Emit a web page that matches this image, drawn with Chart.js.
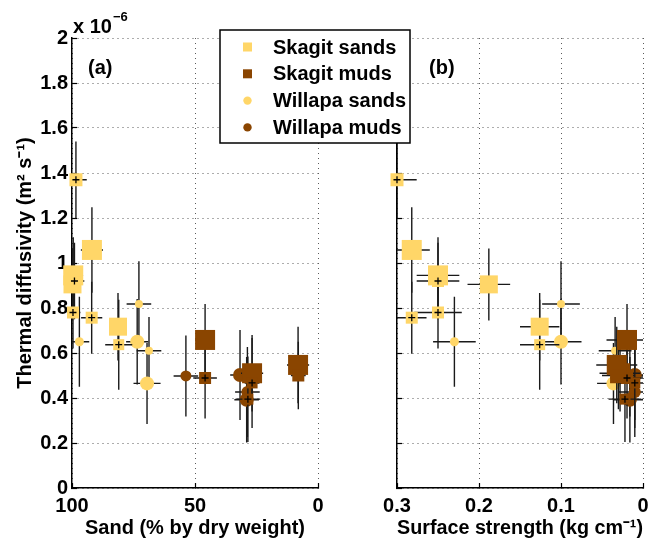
<!DOCTYPE html>
<html>
<head>
<meta charset="utf-8">
<script src="https://cdn.jsdelivr.net/npm/chart.js@4.4.0/dist/chart.umd.min.js"></script>
<style>
  body { margin: 0; background: #fff; }
  #wrap { position: relative; width: 650px; height: 541px; }
  #wrap canvas { position: absolute; left: 0; top: 0; }
</style>
</head>
<body>
<div id="wrap">
  <canvas id="panelA" width="650" height="541"></canvas>
  <canvas id="panelB" width="650" height="541"></canvas>
</div>
<script>
  // thermal diffusivity in units of 1e-6 m2/s
  // Skagit sands
  const skSandPct     = [98.4, 91.9, 99.5, 99.0, 99.8, 99.6, 92.0, 81.3, 81.0];
  const skSandPctErr  = [4.4, 4.5, 4.0, 4.0, 3.5, 3.0, 4.3, 3.5, 5.5];
  const skSandStr     = [0.300, 0.282, 0.250, 0.250, 0.188, 0.250, 0.282, 0.126, 0.126];
  const skSandStrErr  = [0.024, 0.022, 0.026, 0.026, 0.026, 0.029, 0.018, 0.024, 0.024];
  const skSandDiff    = [1.37, 1.058, 0.945, 0.92, 0.905, 0.78, 0.757, 0.717, 0.637];
  const skSandDiffErr = [0.17, 0.19, 0.17, 0.17, 0.16, 0.16, 0.16, 0.15, 0.20];

  // Skagit muds
  const skMudPct     = [45.9, 45.9, 26.8, 26.8, 8.1, 8.0, 28.5];
  const skMudPctErr  = [4.0, 4.8, 4.5, 3.0, 4.5, 3.0, 5.0];
  const skMudStr     = [0.0195, 0.0195, 0.028, 0.010, 0.032, 0.030, 0.022];
  const skMudStrErr  = [0.025, 0.020, 0.025, 0.020, 0.025, 0.020, 0.020];
  const skMudDiff    = [0.658, 0.489, 0.51, 0.467, 0.547, 0.50, 0.395];
  const skMudDiffErr = [0.16, 0.18, 0.17, 0.20, 0.17, 0.15, 0.19];

  // Willapa sands
  const wiSandPct     = [97.0, 72.8, 73.5, 68.7, 69.5];
  const wiSandPctErr  = [4.0, 5.0, 4.5, 5.0, 5.5];
  const wiSandStr     = [0.230, 0.100, 0.100, 0.034, 0.036];
  const wiSandStrErr  = [0.026, 0.023, 0.025, 0.020, 0.020];
  const wiSandDiff    = [0.65, 0.818, 0.65, 0.61, 0.465];
  const wiSandDiffErr = [0.20, 0.19, 0.19, 0.15, 0.18];

  // Willapa muds
  const wiMudPct     = [53.7, 31.7, 28.7, 29.0];
  const wiMudPctErr  = [5.0, 4.0, 5.0, 5.0];
  const wiMudStr     = [0.016, 0.010, 0.010, 0.016];
  const wiMudStrErr  = [0.020, 0.020, 0.020, 0.020];
  const wiMudDiff    = [0.498, 0.502, 0.427, 0.392];
  const wiMudDiffErr = [0.18, 0.20, 0.20, 0.19];

  // marker sizes (px) and which samples get a '+' marker
  const skSandSize  = [13, 20, 20, 12, 18, 12, 12, 18, 11];
  const skSandCross = [1, 0, 0, 1, 0, 1, 1, 0, 1];
  const skMudSize   = [20, 12, 20, 11, 20, 12, 11];
  const skMudCross  = [0, 1, 0, 1, 0, 0, 1];
  const wiSandSize  = [9, 8, 14, 8, 14];
  const wiMudSize   = [11, 14, 12, 14];

  const yTicks = [0, 0.2, 0.4, 0.6, 0.8, 1, 1.2, 1.4, 1.6, 1.8, 2];
  const yTickLabels = ['0', '0.2', '0.4', '0.6', '0.8', '1', '1.2', '1.4', '1.6', '1.8', '2'];

  const sandColor = '#FFD668';
  const mudColor = '#8A4500';
  const FONT = '"Liberation Sans", Arial, Helvetica, sans-serif';
  Chart.defaults.font.family = FONT;
  Chart.defaults.color = '#000';

  const groups = [
    {label: 'Skagit sands', color: sandColor, style: 'rect', pct: skSandPct, pctErr: skSandPctErr,
     str: skSandStr, strErr: skSandStrErr, diff: skSandDiff, diffErr: skSandDiffErr, size: skSandSize, cross: skSandCross},
    {label: 'Skagit muds', color: mudColor, style: 'rect', pct: skMudPct, pctErr: skMudPctErr,
     str: skMudStr, strErr: skMudStrErr, diff: skMudDiff, diffErr: skMudDiffErr, size: skMudSize, cross: skMudCross},
    {label: 'Willapa sands', color: sandColor, style: 'circle', pct: wiSandPct, pctErr: wiSandPctErr,
     str: wiSandStr, strErr: wiSandStrErr, diff: wiSandDiff, diffErr: wiSandDiffErr, size: wiSandSize, cross: []},
    {label: 'Willapa muds', color: mudColor, style: 'circle', pct: wiMudPct, pctErr: wiMudPctErr,
     str: wiMudStr, strErr: wiMudStrErr, diff: wiMudDiff, diffErr: wiMudDiffErr, size: wiMudSize, cross: []}
  ];

  function buildDatasets(useSand) {
    return groups.map(g => {
      const radius = c => g.style === 'rect' ? g.size[c.dataIndex] / Math.SQRT2 : g.size[c.dataIndex] / 2;
      return {
        label: g.label,
        data: g.diff.map((v, i) => ({
          x: useSand ? g.pct[i] : g.str[i],
          y: v,
          xe: useSand ? g.pctErr[i] : g.strErr[i],
          ye: g.diffErr[i],
          cross: !!g.cross[i]
        })),
        pointStyle: g.style,
        backgroundColor: g.color,
        borderWidth: 0,
        pointRadius: radius,
        pointHoverRadius: radius,
        clip: false
      };
    });
  }

  // error bars under each series' markers, '+' marks on top
  const errorBars = {
    id: 'errorBars',
    beforeDatasetDraw(chart, args) {
      const ds = chart.data.datasets[args.index];
      const xs = chart.scales.x, ys = chart.scales.y;
      const a = chart.chartArea, ctx = chart.ctx;
      ctx.save();
      ctx.beginPath();
      ctx.rect(a.left, a.top, a.right - a.left, a.bottom - a.top);
      ctx.clip();
      ctx.strokeStyle = '#1a1a1a';
      ctx.lineWidth = 1.4;
      ds.data.forEach(p => {
        const px = xs.getPixelForValue(p.x), py = ys.getPixelForValue(p.y);
        ctx.beginPath();
        ctx.moveTo(xs.getPixelForValue(p.x - p.xe), py);
        ctx.lineTo(xs.getPixelForValue(p.x + p.xe), py);
        ctx.moveTo(px, ys.getPixelForValue(p.y - p.ye));
        ctx.lineTo(px, ys.getPixelForValue(p.y + p.ye));
        ctx.stroke();
      });
      ctx.restore();
    },
    afterDatasetDraw(chart, args) {
      const ds = chart.data.datasets[args.index];
      const xs = chart.scales.x, ys = chart.scales.y, ctx = chart.ctx;
      ctx.save();
      ctx.strokeStyle = '#000';
      ctx.lineWidth = 1.3;
      ds.data.forEach(p => {
        if (!p.cross) return;
        const px = xs.getPixelForValue(p.x), py = ys.getPixelForValue(p.y);
        ctx.beginPath();
        ctx.moveTo(px - 3.5, py); ctx.lineTo(px + 3.5, py);
        ctx.moveTo(px, py - 3.5); ctx.lineTo(px, py + 3.5);
        ctx.stroke();
      });
      ctx.restore();
    }
  };

  function panelLabel(text, dx, extra) {
    return {
      id: 'panelLabel',
      afterDraw(chart) {
        const ctx = chart.ctx, a = chart.chartArea;
        ctx.save();
        ctx.fillStyle = '#000';
        ctx.textBaseline = 'alphabetic';
        ctx.font = 'bold 20px ' + FONT;
        ctx.fillText(text, a.left + dx, 74);
        if (extra) {
          ctx.fillText('x 10', a.left + 1, 33);
          const w = ctx.measureText('x 10').width;
          ctx.font = 'bold 13px ' + FONT;
          ctx.fillText('\u22126', a.left + 2 + w, 21);
        }
        ctx.restore();
      }
    };
  }

  const legendBox = {
    id: 'legendBox',
    afterDraw(chart) {
      const ctx = chart.ctx;
      ctx.save();
      ctx.fillStyle = '#fff';
      ctx.fillRect(220, 30, 190, 113);
      ctx.strokeStyle = '#000';
      ctx.lineWidth = 1.5;
      ctx.strokeRect(220, 30, 190, 113);
      ctx.font = 'bold 20px ' + FONT;
      ctx.textBaseline = 'middle';
      chart.data.datasets.forEach((ds, i) => {
        const y = 47 + i * 26.8;
        ctx.fillStyle = ds.backgroundColor;
        if (ds.pointStyle === 'rect') {
          ctx.fillRect(243, y - 4.5, 9, 9);
        } else {
          ctx.beginPath();
          ctx.arc(247.5, y, 4.2, 0, 2 * Math.PI);
          ctx.fill();
        }
        ctx.fillStyle = '#000';
        ctx.fillText(ds.label, 273, y + 1);
      });
      ctx.restore();
    }
  };

  const tickFont = {size: 20, weight: 'bold'};
  const gridOpts = {color: '#5a5a5a', lineWidth: 1, tickLength: -5, tickColor: '#000', tickWidth: 1.2};
  const borderOpts = {color: '#000', width: 1.5, dash: [1, 4]};

  function yScale(showLabels) {
    return {
      type: 'linear', min: 0, max: 2,
      afterBuildTicks: s => { s.ticks = yTicks.map(v => ({value: v})); },
      ticks: {
        display: showLabels, font: tickFont, padding: 9, color: '#000',
        callback: (v, i) => yTickLabels[i]
      },
      grid: gridOpts,
      border: borderOpts,
      title: {display: showLabels, text: 'Thermal diffusivity (m\u00b2 s\u207b\u00b9)', font: tickFont, color: '#000', padding: {top: 13, bottom: 0}},
      afterFit: s => { s.width = showLabels ? 72 : 0; }
    };
  }

  function xScale(max, step, title) {
    return {
      type: 'linear', min: 0, max: max, reverse: true,
      ticks: {stepSize: step, font: tickFont, padding: 11, color: '#000', maxRotation: 0},
      grid: gridOpts,
      border: borderOpts,
      title: {display: true, text: title, font: tickFont, color: '#000', padding: {top: 0, bottom: 1}},
      afterFit: s => { s.height = 53; s.paddingLeft = 0; s.paddingRight = 0; }
    };
  }

  function baseOptions(padding, xs, ys) {
    return {
      responsive: false,
      animation: false,
      events: [],
      layout: {padding: padding, autoPadding: false},
      plugins: {legend: {display: false}, tooltip: {enabled: false}},
      scales: {x: xs, y: ys}
    };
  }

  new Chart(document.getElementById('panelA'), {
    type: 'scatter',
    data: {datasets: buildDatasets(true)},
    options: baseOptions({left: 0, right: 332, top: 38, bottom: 0},
      xScale(100, 50, 'Sand (% by dry weight)'), yScale(true)),
    plugins: [errorBars, panelLabel('(a)', 16, true)]
  });

  new Chart(document.getElementById('panelB'), {
    type: 'scatter',
    data: {datasets: buildDatasets(false)},
    options: baseOptions({left: 397, right: 7, top: 38, bottom: 0},
      xScale(0.3, 0.1, 'Surface strength (kg cm\u207b\u00b9)'), yScale(false)),
    plugins: [errorBars, panelLabel('(b)', 32, false), legendBox]
  });
</script>
</body>
</html>
